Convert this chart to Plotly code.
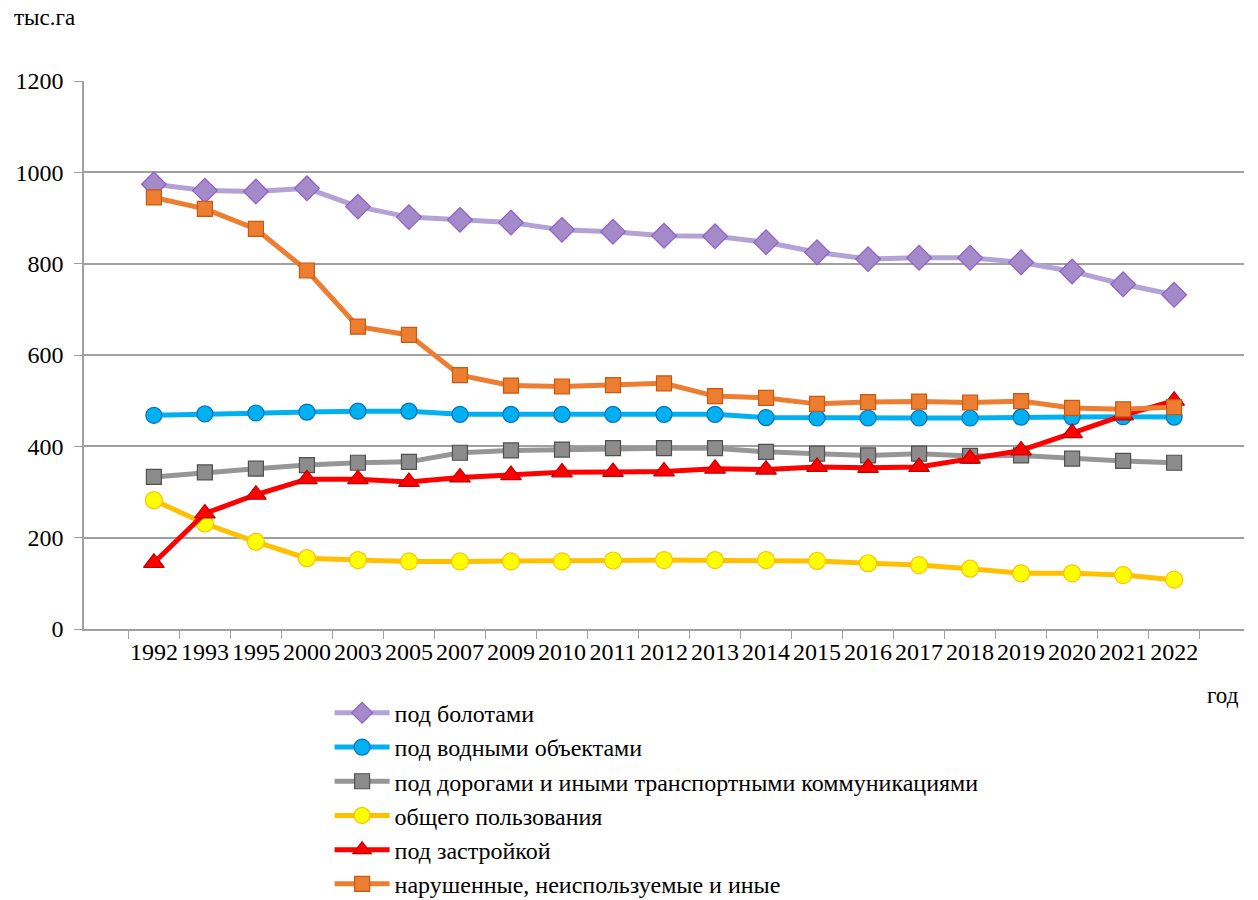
import plotly.graph_objects as go

years = ["1992", "1993", "1995", "2000", "2003", "2005", "2007", "2009", "2010", "2011", "2012",
         "2013", "2014", "2015", "2016", "2017", "2018", "2019", "2020", "2021", "2022"]

bolota = [974, 960, 958, 965, 925, 902, 896, 890, 874, 870, 861, 860, 847, 825, 810, 813, 813, 803, 783, 755, 732]
vodnye = [468, 471, 473, 475, 477, 477, 470, 470, 470, 470, 470, 470, 463, 462, 462, 462, 462, 464, 464, 465, 464]
dorogi = [333, 343, 351, 359, 364, 366, 386, 391, 393, 396, 396, 396, 388, 384, 380, 384, 379, 380, 373, 368, 364]
obshchego = [282, 231, 191, 155, 151, 148, 148, 148, 148, 150, 151, 151, 151, 149, 144, 140, 132, 122, 122, 118, 108]
zastroyka = [145, 253, 294, 328, 328, 322, 332, 337, 343, 344, 345, 351, 349, 355, 353, 355, 373, 391, 429, 468, 500]
narushennye = [945, 920, 876, 785, 662, 644, 556, 533, 531, 534, 538, 510, 506, 493, 497, 498, 496, 499, 484, 481, 486]

names = ["под болотами", "под водными объектами",
         "под дорогами и иными транспортными коммуникациями",
         "общего пользования", "под застройкой",
         "нарушенные, неиспользуемые и иные"]

styles = [
    (bolota, "#B3A2D6", "diamond", "#A48AC9", "#8E5FC9", 19),
    (vodnye, "#00B0F0", "circle", "#00B0F0", "#0070C0", 16),
    (dorogi, "#969696", "square", "#8C8C8C", "#505050", 15),
    (obshchego, "#FFC000", "circle", "#FFFF00", "#FFC000", 17),
    (zastroyka, "#FF0000", "triangle-up", "#FF0000", "#C00000", 18),
    (narushennye, "#ED7D31", "square", "#ED7D31", "#C55A11", 15),
]

FONT = "serif"

fig = go.Figure()
for i, (vals, lc, sym, mf, ml, ms) in enumerate(styles):
    fig.add_trace(go.Scatter(
        x=years, y=vals, mode="lines+markers", name=names[i],
        legendgroup=f"g{i}",
        line=dict(color=lc, width=5),
        marker=dict(symbol=sym, size=ms, color=mf, line=dict(color=ml, width=1.2)),
    ))

fig.update_layout(
    width=1258, height=900,
    margin=dict(l=84, r=14, t=81, b=271, autoexpand=False),
    paper_bgcolor="white", plot_bgcolor="white",
    font=dict(family=FONT, size=24, color="#000000"),
    showlegend=True,
    legend=dict(xref="container", yref="container", x=0.262, y=0.2325,
                xanchor="left", yanchor="top",
                orientation="v", tracegroupgap=0, itemwidth=55,
                font=dict(family=FONT, size=24, color="#000000"), bgcolor="rgba(0,0,0,0)"),
    xaxis=dict(type="category", showline=True, linecolor="#A0A0A0", linewidth=1.5,
               ticks="outside", tickson="boundaries", ticklen=8, tickcolor="#A0A0A0",
               showgrid=False, tickfont=dict(family=FONT, size=24, color="#000000"), tickangle=0,
               automargin=False),
    yaxis=dict(range=[0, 1200], dtick=200, showline=True, linecolor="#A0A0A0", linewidth=1.5,
               ticks="outside", ticklen=8, tickcolor="#A0A0A0", ticklabelstandoff=6,
               showgrid=True, gridcolor="#A0A0A0", gridwidth=1.5, zeroline=False,
               tickfont=dict(family=FONT, size=24, color="#000000"), automargin=False),
    annotations=[
        dict(text="тыс.га", xref="paper", yref="paper", x=-0.062, y=1.09,
             xanchor="left", yanchor="bottom", showarrow=False,
             font=dict(family=FONT, size=23, color="#000000")),
        dict(text="год", xref="paper", yref="paper", x=0.997, y=-0.095,
             xanchor="right", yanchor="top", showarrow=False,
             font=dict(family=FONT, size=23, color="#000000")),
    ],
)

fig.write_html("out.html", config={"displayModeBar": False},
               post_script="document.body.style.margin='0';")
